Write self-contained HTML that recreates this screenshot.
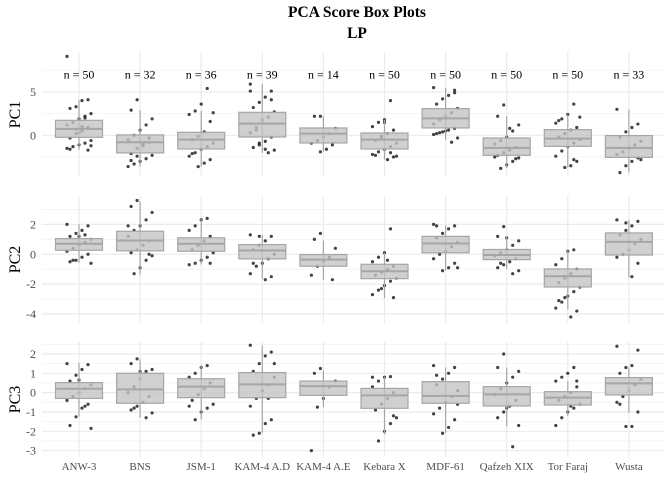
<!DOCTYPE html>
<html><head><meta charset="utf-8">
<style>
html,body{margin:0;padding:0;background:#fff;}
svg{display:block;}
svg text{font-family:"Liberation Serif","Times New Roman",serif;}
</style></head>
<body>
<svg id="chart" width="672" height="480" viewBox="0 0 672 480" xmlns="http://www.w3.org/2000/svg" font-family="'Liberation Serif', serif">
<text x="357" y="17" text-anchor="middle" font-size="15.5" font-weight="bold" font-family="Liberation Serif, serif">PCA Score Box Plots</text>
<text x="357" y="38" text-anchor="middle" font-size="15.5" font-weight="bold" font-family="Liberation Serif, serif">LP</text>
</svg>
<script>
const categories = ["ANW-3","BNS","JSM-1","KAM-4 A.D","KAM-4 A.E","Kebara X","MDF-61","Qafzeh XIX","Tor Faraj","Wusta"];
const counts = [50,32,36,39,14,50,50,50,50,33];
// [low whisker, q1, median, q3, high whisker]
const pc1Boxes = [[-1.65,-0.23,0.74,1.73,4.1],[-3.6,-2.03,-0.8,0.05,2.9],[-3.6,-1.57,-0.5,0.35,2.8],[-2.03,-0.19,1.35,2.65,5.9],[-1.9,-0.88,0.2,0.85,2.2],[-2.8,-1.57,-0.5,0.27,1.8],[-0.5,0.85,1.96,3.08,5.47],[-3.76,-2.3,-1.45,-0.3,2.2],[-3.7,-1.27,-0.38,0.66,2.4],[-4.27,-2.54,-1.45,-0.03,2.97]];
const pc2Boxes = [[-0.58,0.27,0.7,1.05,2.0],[-1.36,0.23,0.92,1.54,3.56],[-0.69,0.2,0.7,1.1,2.35],[-1.65,-0.31,0.25,0.65,1.3],[-1.7,-0.8,-0.36,-0.02,0.92],[-2.93,-1.63,-1.14,-0.67,0.1],[-1.07,0.1,0.72,1.2,1.93],[-0.98,-0.36,-0.05,0.32,1.2],[-3.7,-2.19,-1.47,-0.98,0.27],[-1.54,-0.05,0.83,1.43,2.28]];
const pc3Boxes = [[-1.24,-0.3,0.2,0.52,1.55],[-1.3,-0.55,0.17,1.0,1.72],[-1.38,-0.26,0.31,0.72,1.41],[-2.07,-0.26,0.43,1.04,2.45],[-0.75,-0.14,0.34,0.6,1.15],[-2.16,-0.81,-0.14,0.22,0.83],[-2.07,-0.55,-0.17,0.57,1.3],[-1.73,-0.69,-0.09,0.31,1.3],[-1.2,-0.64,-0.26,0.05,0.6],[-1.03,-0.12,0.48,0.78,1.3]];
const pc1Points = [[9.1,4.1,4.0,3.3,3.1,2.5,2.2,1.9,1.5,1.2,0.9,0.5,0.2,-0.3,-0.6,-0.9,-1.1,-1.3,-1.5,-1.7,1.0,0.7,-1.6,-1.2,2.0,0.3],[4.1,2.9,1.9,1.2,0.6,0.0,-0.5,-0.8,-1.2,-1.5,-2.1,-2.3,-2.7,-3.0,-3.3,-3.6,-0.3,-1.0,-2.4,-2.9],[5.4,3.6,2.8,2.4,1.6,0.4,-0.1,-0.5,-0.9,-1.3,-1.6,-2.0,-2.4,-2.8,-3.2,-3.6,-2.1,2.6],[5.9,5.1,4.4,3.8,3.2,2.7,2.1,1.4,0.9,0.3,-0.2,-0.7,-1.1,-1.4,-1.7,-2.0,1.8,0.6,5.1,4.1,-1.6,-0.9],[2.2,2.2,0.8,0.2,-0.2,-0.6,-0.9,-1.1,-1.6,-1.9],[4.0,1.8,1.5,1.0,0.6,0.2,-0.3,-0.6,-0.9,-1.3,-1.6,-1.9,-2.2,-2.5,-2.8,-0.1,-2.3,-2.4,-2.0,1.5],[5.5,5.2,4.6,4.2,3.6,3.1,2.6,2.2,1.8,1.3,0.8,0.6,0.4,0.2,-0.3,-0.8,0.5,0.3,0.1,4.9],[3.5,2.2,1.2,0.5,-0.2,-0.6,-1.0,-1.4,-1.7,-2.0,-2.3,-2.6,-3.0,-3.4,-3.8,-2.5,-2.7,0.8],[3.6,2.4,1.9,1.4,0.9,0.6,0.2,-0.2,-0.5,-0.9,-1.3,-1.8,-2.4,-3.0,-3.5,-3.7,1.7,2.1,-2.8],[3.0,1.3,0.9,0.4,-0.2,-0.7,-1.1,-1.5,-1.9,-2.2,-2.6,-3.0,-3.5,-4.3,-2.8]];
const pc2Points = [[2.0,1.9,1.6,1.4,1.2,1.0,0.8,0.6,0.4,0.2,0.0,-0.2,-0.4,-0.5,-0.6,1.3,1.2,-0.4],[3.6,3.2,2.8,2.3,1.9,1.6,1.2,0.9,0.6,0.3,0.1,-0.1,-0.4,-0.9,-1.3,1.9,0.0],[2.4,2.3,1.9,1.6,1.2,0.9,0.6,0.3,0.1,-0.2,-0.4,-0.6,-0.7,-0.6],[1.3,1.2,0.9,0.6,0.3,0.0,-0.3,-0.6,-0.8,-1.3,-1.5,-1.7,1.2,-0.6],[1.4,1.0,0.4,-0.2,-0.5,-0.8,-1.4,-1.7],[1.7,0.1,-0.2,-0.5,-0.8,-1.0,-1.2,-1.4,-1.6,-1.8,-2.1,-2.4,-2.7,-2.9,-0.4,-2.3],[2.0,1.9,1.7,1.4,1.1,0.8,0.5,0.2,0.0,-0.3,-0.6,-0.9,-1.1,1.9,-0.9],[1.85,1.2,0.9,0.6,0.3,0.1,-0.1,-0.3,-0.5,-0.7,-0.9,-1.1,-1.3,1.1,-0.6],[0.3,0.2,-0.3,-0.7,-1.0,-1.3,-1.6,-1.9,-2.2,-2.5,-2.8,-3.2,-3.6,-3.8,-4.2,-2.9,-3.1],[2.3,2.2,1.9,1.6,1.3,1.0,0.7,0.3,0.0,-0.2,-0.6,-1.5,2.1]];
const pc3Points = [[1.5,1.45,1.2,0.9,0.6,0.4,0.2,0.0,-0.2,-0.4,-0.6,-0.8,-1.25,-1.7,-1.85,-0.7,0.65],[1.75,1.5,1.2,1.1,0.7,0.3,0.0,-0.2,-0.5,-0.7,-0.9,-1.05,-1.3,1.1,-0.8],[1.4,1.3,1.0,0.8,0.5,0.2,-0.1,-0.4,-0.6,-0.8,-1.0,-1.4,-0.7],[2.45,2.1,1.9,1.5,1.1,0.8,0.4,0.1,-0.3,-0.7,-1.4,-1.6,-2.1,-2.2,1.5,-0.3],[1.25,1.0,0.6,0.3,-0.3,-0.75,-3.0],[0.83,0.8,0.6,0.3,0.0,-0.3,-0.6,-0.9,-1.3,-1.6,-2.0,-2.5,0.8,-1.2],[1.4,1.3,1.0,0.7,0.4,0.1,-0.2,-0.5,-0.8,-1.1,-1.4,-1.8,-2.1,0.9,-0.6],[2.0,1.3,1.1,0.8,0.5,0.2,-0.1,-0.4,-0.7,-1.0,-1.3,-1.7,-2.8,-0.8],[1.3,1.0,0.8,0.6,0.3,0.0,-0.2,-0.4,-0.6,-0.8,-1.0,-1.3,-1.7,0.6,-0.7],[2.4,2.2,1.4,1.3,1.0,0.7,0.4,0.1,-0.2,-0.5,-1.0,-1.75,-1.75,-0.6]];
const pc1Ticks = [0,5];
const pc2Ticks = [-4,-2,0,2];
const pc3Ticks = [-3,-2,-1,0,1,2];
const nLabelValue = 7.0;

const NS = "http://www.w3.org/2000/svg";
const FONT = "Liberation Serif, serif";
const svg = document.getElementById('chart');
const X0 = 42, X1 = 665;
function xPos(i){ return 79 + 61.1*i; }
function mk(tag, attrs, parent){
  const e = document.createElementNS(NS, tag);
  for (const k in attrs) e.setAttribute(k, attrs[k]);
  if (tag === 'text') e.setAttribute('font-family', FONT);
  (parent||svg).appendChild(e); return e;
}
const panels = [
  {name:"pc1", title:"PC1", top:52, bottom:177, vmin:-4.8, vmax:9.6, ticks:pc1Ticks, minor:[-2.5,2.5,7.5], boxes:pc1Boxes, pts:pc1Points, nlab:true},
  {name:"pc2", title:"PC2", top:196, bottom:323, vmin:-4.6, vmax:3.9, ticks:pc2Ticks, minor:[-3,-1,1,3], boxes:pc2Boxes, pts:pc2Points},
  {name:"pc3", title:"PC3", top:342, bottom:457, vmin:-3.33, vmax:2.62, ticks:pc3Ticks, minor:[-2.5,-1.5,-0.5,0.5,1.5,2.5], boxes:pc3Boxes, pts:pc3Points}
];
panels.forEach(p=>{
  const y = v => p.bottom - (v - p.vmin)/(p.vmax - p.vmin)*(p.bottom - p.top);
  const g = mk('g', {});
  
  
  p.minor.forEach(v=>{ const l=mk('line',{x1:X0,x2:X1,y1:y(v),y2:y(v),stroke:'#f2f2f2','stroke-width':0.8},g);
      });
  p.ticks.forEach(v=>{ const l=mk('line',{x1:X0,x2:X1,y1:y(v),y2:y(v),stroke:'#ebebeb','stroke-width':1.2},g);
     
    const t=mk('text',{x:36,y:y(v)+4,'text-anchor':'end','font-size':12,fill:'#4d4d4d'},g);
     
    t.textContent = v; });
  categories.forEach((c,i)=>{ const l=mk('line',{x1:xPos(i),x2:xPos(i),y1:p.top,y2:p.bottom,stroke:'#ebebeb','stroke-width':1.2},g);
      });
  const at=mk('text',{x:0,y:0,'text-anchor':'middle','font-size':16,fill:'#000',transform:`translate(20,${(p.top+p.bottom)/2}) rotate(-90)`},g);
   
  at.textContent = p.title;
  p.pts.forEach((arr,i)=>{ arr.forEach((v,k)=>{
    const dx = (((k*7+i*3)%9)-4)/4*12;
    const c=mk('circle',{cx:xPos(i)+dx,cy:y(v),r:1.6,fill:'#222','fill-opacity':0.85},g);
      }); });
  p.boxes.forEach((b,i)=>{
    const cx = xPos(i), w = 23.5;
    const wl=mk('line',{x1:cx,x2:cx,y1:y(b[0]),y2:y(b[4]),stroke:'#a6a6a6','stroke-width':1.2},g);
     
    const r=mk('rect',{x:cx-w,y:y(b[3]),width:2*w,height:y(b[1])-y(b[3]),fill:'#c4c4c4','fill-opacity':0.8,stroke:'#a6a6a6','stroke-width':1.2},g);
    
    
    const m=mk('line',{x1:cx-w,x2:cx+w,y1:y(b[2]),y2:y(b[2]),stroke:'#a6a6a6','stroke-width':2},g);
     
    if (p.nlab){ const t=mk('text',{x:cx,y:y(nLabelValue)+4,'text-anchor':'middle','font-size':12,fill:'#000'},g);
       
      t.textContent = 'n = '+counts[i]; }
  });
});
categories.forEach((c,i)=>{ const t=mk('text',{x:xPos(i),y:470,'text-anchor':'middle','font-size':11,fill:'#4d4d4d'});
   
  t.textContent=c; });
</script>
</body></html>
